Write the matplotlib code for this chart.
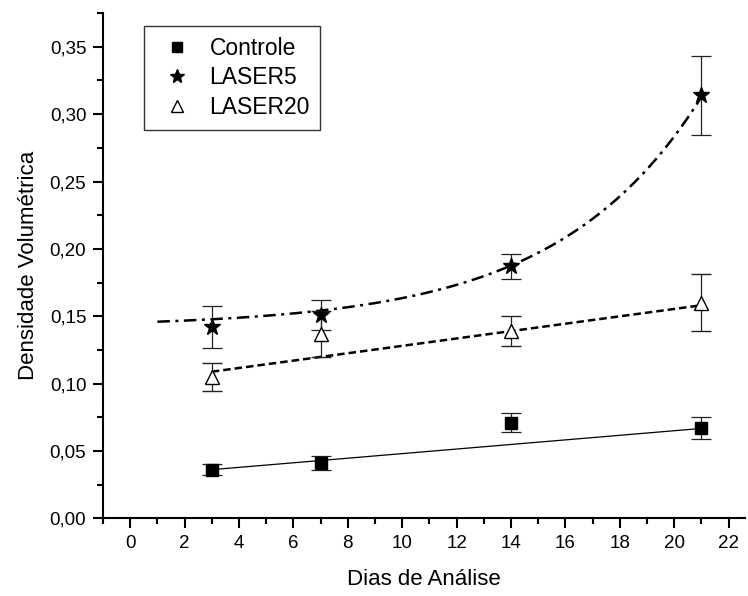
import numpy as np
import matplotlib
matplotlib.use("Agg")
import matplotlib.pyplot as plt
from matplotlib.lines import Line2D
from matplotlib.ticker import MultipleLocator, FuncFormatter

plt.rcParams['font.family'] = ['Liberation Sans', 'DejaVu Sans']

# dias de analise
days = [3, 7, 14, 21]

# Controle
controle = [0.036, 0.041, 0.071, 0.067]
controle_err = [0.004, 0.005, 0.007, 0.008]
# LASER5
laser5 = [0.142, 0.151, 0.187, 0.314]
laser5_err = [0.0155, 0.011, 0.0095, 0.0295]
# LASER20
laser20 = [0.105, 0.137, 0.139, 0.160]
laser20_err = [0.0105, 0.017, 0.011, 0.021]

# curvas de ajuste (parametros)
fit_controle = (0.031, 0.0017)            # a + b*x
fit_laser20 = (0.1006, 0.00274)           # a + b*x
fit_laser5 = (0.142, 0.00325, 5.3)        # y0 + A*exp(x/t)
fit_laser5_range = (1, 21)

fig = plt.figure(figsize=(7.48, 5.96), dpi=100)
ax = fig.add_axes([0.1377, 0.1304, 0.8583, 0.8476])

# ajustes
xl = np.linspace(days[0], days[-1], 100)
ax.plot(xl, fit_controle[0] + fit_controle[1] * xl, color='black', lw=0.9)
ax.plot(xl, fit_laser20[0] + fit_laser20[1] * xl, color='black', lw=1.8,
        linestyle=(0, (3, 1.6)))
xe = np.linspace(fit_laser5_range[0], fit_laser5_range[1], 200)
y0, A, t = fit_laser5
ax.plot(xe, y0 + A * np.exp(xe / t), color='black', lw=1.8,
        linestyle=(0, (5, 2.2, 1.2, 2.2)))

# pontos com barras de erro
ebkw = dict(ecolor='#222222', elinewidth=0.9, capsize=7.5, capthick=0.9, linestyle='none')
ax.errorbar(days, controle, yerr=controle_err, marker='s', ms=8, mfc='black',
            mec='black', **ebkw)
ax.errorbar(days, laser20, yerr=laser20_err, marker='^', ms=10, mfc='white',
            mec='black', mew=1.0, **ebkw)
ax.errorbar(days, laser5, yerr=laser5_err, marker='*', ms=12, mfc='black',
            mec='black', **ebkw)

ax.set_xlim(-1, 22.6)
ax.set_ylim(0, 0.375)

for s in ['top', 'right']:
    ax.spines[s].set_visible(False)
for s in ['left', 'bottom']:
    ax.spines[s].set_linewidth(1.5)

ax.xaxis.set_major_locator(MultipleLocator(2))
ax.xaxis.set_minor_locator(MultipleLocator(1))
ax.yaxis.set_major_locator(MultipleLocator(0.05))
ax.yaxis.set_minor_locator(MultipleLocator(0.025))
ax.yaxis.set_major_formatter(FuncFormatter(lambda v, p: f"{v:.2f}".replace('.', ',')))
ax.set_xticks(np.arange(0, 23, 2))
ax.tick_params(which='major', direction='out', length=7, width=1.5, labelsize=13.5, pad=5)
ax.tick_params(which='minor', direction='out', length=4, width=1.5)

ax.set_xlabel("Dias de Análise", fontsize=16, labelpad=12)
ax.set_ylabel("Densidade Volumétrica", fontsize=16, labelpad=8)

handles = [
    Line2D([], [], marker='s', color='black', linestyle='none', ms=7),
    Line2D([], [], marker='*', color='black', linestyle='none', ms=10),
    Line2D([], [], marker='^', mfc='white', mec='black', linestyle='none', ms=9),
]
leg = ax.legend(handles, ['Controle', 'LASER5', 'LASER20'], loc='upper left',
                bbox_to_anchor=(0.064, 0.974), borderaxespad=0, fontsize=16.5,
                frameon=True, fancybox=False, edgecolor='black',
                handletextpad=0.4, labelspacing=0.3, borderpad=0.45)
leg.get_frame().set_linewidth(1.0)

fig.savefig("out.png", dpi=100)
